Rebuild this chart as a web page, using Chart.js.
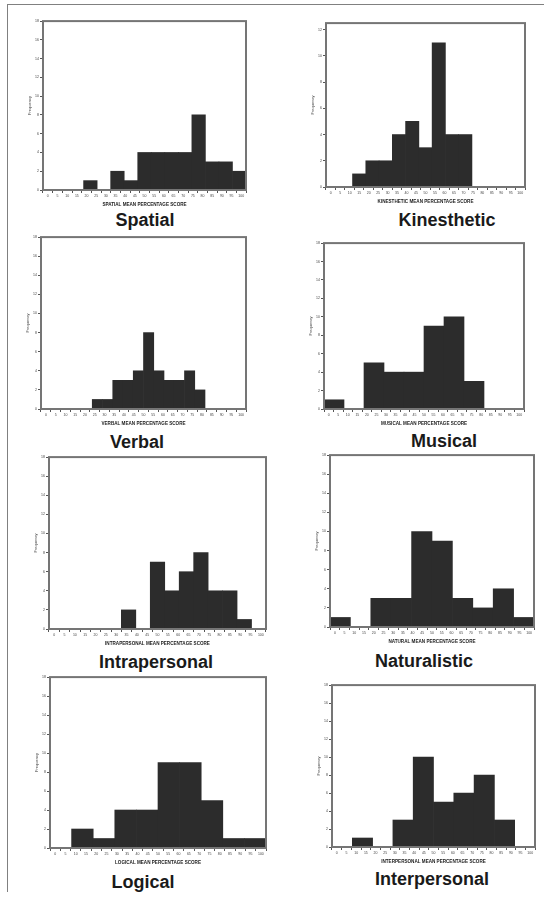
<!DOCTYPE html>
<html>
<head>
<meta charset="utf-8">
<script src="https://cdn.jsdelivr.net/npm/chart.js@4.4.1/dist/chart.umd.min.js"></script>
<style>
  body { margin: 0; background: #fff; width: 545px; height: 897px; position: relative; overflow: hidden; font-family: "Liberation Sans", Arial, sans-serif; }
  .sheet { position: absolute; left: 7px; top: 4px; width: 536px; height: 887px; border-left: 1.5px solid #808080; border-top: 1.5px solid #808080; }
  canvas { position: absolute; }
  .name { position: absolute; width: 200px; text-align: center; font-weight: bold; font-size: 18px; line-height: 18px; color: #1a1a1a; }
</style>
</head>
<body>
<div class="sheet"></div>
<div id="wrap"></div>
<script>
// tick labels
const xTicks = [0, 5, 10, 15, 20, 25, 30, 35, 40, 45, 50, 55, 60, 65, 70, 75, 80, 85, 90, 95, 100];

// frequencies per bin (bins spread evenly over the 0-100 score range)
const spatial       = [0, 0, 0, 1, 0, 2, 1, 4, 4, 4, 4, 8, 3, 3, 2];
const kinesthetic   = [0, 0, 1, 2, 2, 4, 5, 3, 11, 4, 4, 0, 0, 0, 0];
const verbal        = [0, 0, 0, 0, 0, 1, 1, 3, 3, 4, 8, 4, 3, 3, 4, 2, 0, 0, 0, 0];
const musical       = [1, 0, 5, 4, 4, 9, 10, 3, 0, 0];
const intrapersonal = [0, 0, 0, 0, 0, 2, 0, 7, 4, 6, 8, 4, 4, 1, 0];
const naturalistic  = [1, 0, 3, 3, 10, 9, 3, 2, 4, 1];
const logical       = [0, 2, 1, 4, 4, 9, 9, 5, 1, 1];
const interpersonal = [0, 1, 0, 3, 10, 5, 6, 8, 3, 0];

// layout: plot frame [left, top, right, bottom] and title centre / top
const panels = [
  { name: 'Spatial',       axis: 'SPATIAL MEAN PERCENTAGE SCORE',       counts: spatial,       yMax: 18,   box: [43, 21, 246, 190],  title: [145, 211] },
  { name: 'Kinesthetic',   axis: 'KINESTHETIC MEAN PERCENTAGE SCORE',   counts: kinesthetic,   yMax: 12.5, box: [326, 23, 525, 187], title: [447, 211] },
  { name: 'Verbal',        axis: 'VERBAL MEAN PERCENTAGE SCORE',        counts: verbal,        yMax: 18,   box: [41, 237, 246, 409], title: [137, 433] },
  { name: 'Musical',       axis: 'MUSICAL MEAN PERCENTAGE SCORE',       counts: musical,       yMax: 18,   box: [324, 243, 524, 409], title: [444, 432] },
  { name: 'Intrapersonal', axis: 'INTRAPERSONAL MEAN PERCENTAGE SCORE', counts: intrapersonal, yMax: 18,   box: [49, 457, 266, 629], title: [156, 653] },
  { name: 'Naturalistic',  axis: 'NATURAL MEAN PERCENTAGE SCORE',       counts: naturalistic,  yMax: 18,   box: [330, 455, 534, 627], title: [424, 652] },
  { name: 'Logical',       axis: 'LOGICAL MEAN PERCENTAGE SCORE',       counts: logical,       yMax: 18,   box: [50, 677, 266, 848], title: [143, 873] },
  { name: 'Interpersonal', axis: 'INTERPERSONAL MEAN PERCENTAGE SCORE', counts: interpersonal, yMax: 18,   box: [332, 685, 535, 847], title: [432, 870] }
];

Chart.defaults.font.family = '"Liberation Sans", Arial, sans-serif';
Chart.defaults.color = '#444';
Chart.defaults.animation = false;

const Y_W = 16, X_H = 17, PAD = 3;

// grey box round the plot area
const framePlugin = {
  id: 'frame',
  afterDatasetsDraw(chart) {
    const { ctx, chartArea: a } = chart;
    ctx.save();
    ctx.strokeStyle = '#757575';
    ctx.lineWidth = 2;
    ctx.strokeRect(a.left, a.top, a.right - a.left, a.bottom - a.top);
    ctx.restore();
  }
};

const wrap = document.getElementById('wrap');

panels.forEach(p => {
  const [l, t, r, b] = p.box;
  const cv = document.createElement('canvas');
  cv.width = (r - l) + Y_W + PAD;
  cv.height = (b - t) + X_H + PAD;
  cv.style.left = (l - Y_W) + 'px';
  cv.style.top = (t - PAD) + 'px';
  wrap.appendChild(cv);

  const nm = document.createElement('div');
  nm.className = 'name';
  nm.style.left = (p.title[0] - 100) + 'px';
  nm.style.top = p.title[1] + 'px';
  nm.textContent = p.name;
  wrap.appendChild(nm);

  new Chart(cv, {
    type: 'bar',
    data: {
      labels: p.counts.map((_, i) => 'bin ' + (i + 1)),
      datasets: [{
        label: 'Frequency',
        data: p.counts,
        backgroundColor: '#2c2c2c',
        borderWidth: 0,
        barPercentage: 1,
        categoryPercentage: 1,
        xAxisID: 'x',
        yAxisID: 'y'
      }]
    },
    options: {
      responsive: false,
      layout: { padding: { top: PAD, right: PAD, left: 0, bottom: 0 } },
      plugins: { legend: { display: false }, tooltip: { enabled: false } },
      scales: {
        x: { type: 'category', display: false },
        x2: {
          type: 'linear',
          display: true,
          position: 'bottom',
          min: 0,
          max: 100,
          afterBuildTicks: s => { s.ticks = xTicks.map(v => ({ value: v })); },
          ticks: { font: { size: 3.5 }, padding: 1, autoSkip: false, maxRotation: 0, color: '#444' },
          grid: { drawOnChartArea: false, drawTicks: true, tickLength: 3, color: '#555' },
          border: { display: false },
          title: { display: true, text: p.axis, font: { size: 4.6, weight: 'bold' }, padding: { top: 1, bottom: 0 }, color: '#222' },
          afterFit: s => { s.height = X_H; }
        },
        y: {
          min: 0,
          max: p.yMax,
          ticks: { stepSize: 2, includeBounds: false, font: { size: 3.5 }, padding: 1, color: '#444' },
          grid: { drawOnChartArea: false, drawTicks: true, tickLength: 3, color: '#555' },
          border: { display: false },
          title: { display: true, text: 'Frequency', font: { size: 4 }, padding: 0, color: '#444' },
          afterFit: s => { s.width = Y_W; }
        }
      }
    },
    plugins: [framePlugin]
  });
});
</script>
</body>
</html>
